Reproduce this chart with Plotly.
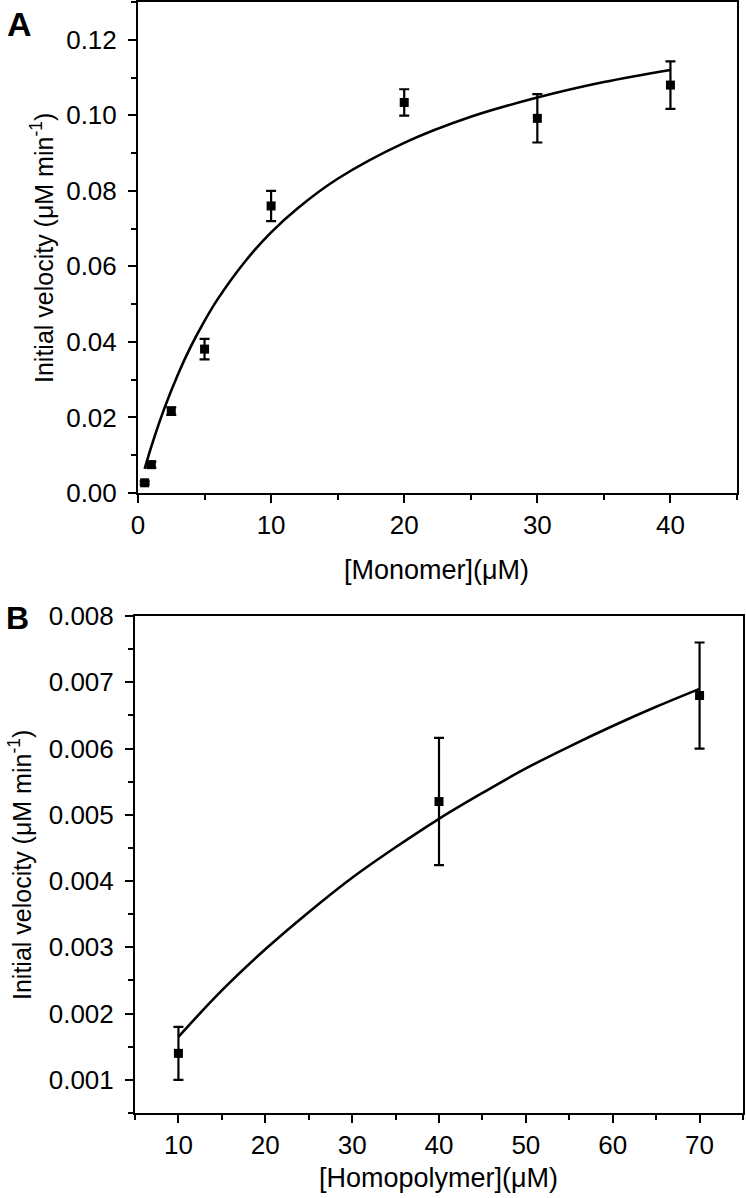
import plotly.graph_objects as go

# Panel A data
mono_x = [0.5, 1, 2.5, 5, 10, 20, 30, 40]
mono_y = [0.0027, 0.0075, 0.0217, 0.0381, 0.0760, 0.1034, 0.0992, 0.1080]
mono_err = [0.0004, 0.0008, 0.0010, 0.0027, 0.0040, 0.0035, 0.0064, 0.0063]
mono_fit_x = [0.5, 1, 2, 3, 4, 5, 6, 8, 10, 12, 15, 20, 25, 30, 35, 40]
mono_fit_y = [0.0064, 0.0123, 0.0226, 0.0314, 0.0390, 0.0456, 0.0514, 0.0611,
              0.0690, 0.0754, 0.0832, 0.0927, 0.0996, 0.1047, 0.1088, 0.1120]

# Panel B data
homo_x = [10, 40, 70]
homo_y = [0.0014, 0.0052, 0.0068]
homo_err = [0.0004, 0.00096, 0.0008]
homo_fit_x = [10, 15, 20, 25, 30, 35, 40, 45, 50, 55, 60, 65, 70]
homo_fit_y = [0.00165, 0.00235, 0.00297, 0.00353, 0.00405, 0.00451, 0.00494,
              0.00533, 0.00570, 0.00603, 0.00634, 0.00663, 0.00690]

W, H = 746, 1198
FONT = "Liberation Sans, Arial, sans-serif"

fig = go.Figure()

fig.add_trace(go.Scatter(x=mono_fit_x, y=mono_fit_y, mode="lines", line=dict(color="black", width=2.6, shape="spline"),
                         xaxis="x", yaxis="y", showlegend=False, hoverinfo="skip"))
fig.add_trace(go.Scatter(x=mono_x, y=mono_y, mode="markers",
                         marker=dict(symbol="square", size=9, color="black"),
                         error_y=dict(type="data", array=mono_err, color="black", thickness=2.2, width=5),
                         xaxis="x", yaxis="y", showlegend=False))

fig.add_trace(go.Scatter(x=homo_fit_x, y=homo_fit_y, mode="lines", line=dict(color="black", width=2.6, shape="spline"),
                         xaxis="x2", yaxis="y2", showlegend=False, hoverinfo="skip"))
fig.add_trace(go.Scatter(x=homo_x, y=homo_y, mode="markers",
                         marker=dict(symbol="square", size=9, color="black"),
                         error_y=dict(type="data", array=homo_err, color="black", thickness=2.2, width=5),
                         xaxis="x2", yaxis="y2", showlegend=False))

common = dict(showline=True, linecolor="black", linewidth=2, mirror=True, showgrid=False, zeroline=False,
              automargin=False,
              ticks="outside", ticklen=8, tickwidth=2, tickcolor="black",
              tickfont=dict(family=FONT, size=26, color="black"))
mn = dict(ticks="outside", ticklen=5, tickwidth=2, tickcolor="black")

fig.update_layout(
    template="none",
    width=W, height=H, margin=dict(l=0, r=0, t=0, b=0, pad=0),
    paper_bgcolor="white", plot_bgcolor="white",
    font=dict(family=FONT, color="black"),
    xaxis=dict(domain=[138 / W, 737 / W], anchor="y", range=[0, 45], dtick=10, tick0=0,
               minor=dict(dtick=5, tick0=0, **mn), **common),
    yaxis=dict(domain=[1 - 493 / H, 1 - 2 / H], anchor="x", range=[0, 0.13], dtick=0.02, tick0=0, tickformat=".2f",
               ticklabelstandoff=6, minor=dict(dtick=0.01, tick0=0, **mn), **common),
    xaxis2=dict(domain=[135 / W, 743 / W], anchor="y2", range=[5, 75], dtick=10, tick0=0,
                minor=dict(dtick=5, tick0=0, **mn), **common),
    yaxis2=dict(domain=[1 - 1113 / H, 1 - 616 / H], anchor="x2", range=[0.0005, 0.008], dtick=0.001, tick0=0,
                tickformat=".3f", ticklabelstandoff=6,
                minor=dict(dtick=0.0005, tick0=0, **mn), **common),
)

xfont = dict(family=FONT, size=27, color="black")
yfont = dict(family=FONT, size=25, color="black")
ann = [
    dict(text="<b>A</b>", x=19 / W, y=1 - 24 / H, font=dict(family=FONT, size=34, color="black")),
    dict(text="<b>B</b>", x=17 / W, y=1 - 618 / H, font=dict(family=FONT, size=32, color="black")),
    dict(text="[Monomer](\u03bcM)", x=437 / W, y=1 - 570 / H, font=xfont),
    dict(text="[Homopolymer](\u03bcM)", x=439 / W, y=1 - 1178 / H, font=xfont),
    dict(text="Initial velocity (\u03bcM min<sup>-1</sup>)", x=42 / W, y=1 - 248 / H, textangle=-90, font=yfont),
    dict(text="Initial velocity (\u03bcM min<sup>-1</sup>)", x=20 / W, y=1 - 865 / H, textangle=-90, font=yfont),
]
for a in ann:
    fig.add_annotation(xref="paper", yref="paper", showarrow=False, xanchor="center", yanchor="middle", **a)

fig.write_html("out.html", config={"displayModeBar": False},
               post_script="document.body.style.margin='0px';document.body.style.overflow='hidden';")
